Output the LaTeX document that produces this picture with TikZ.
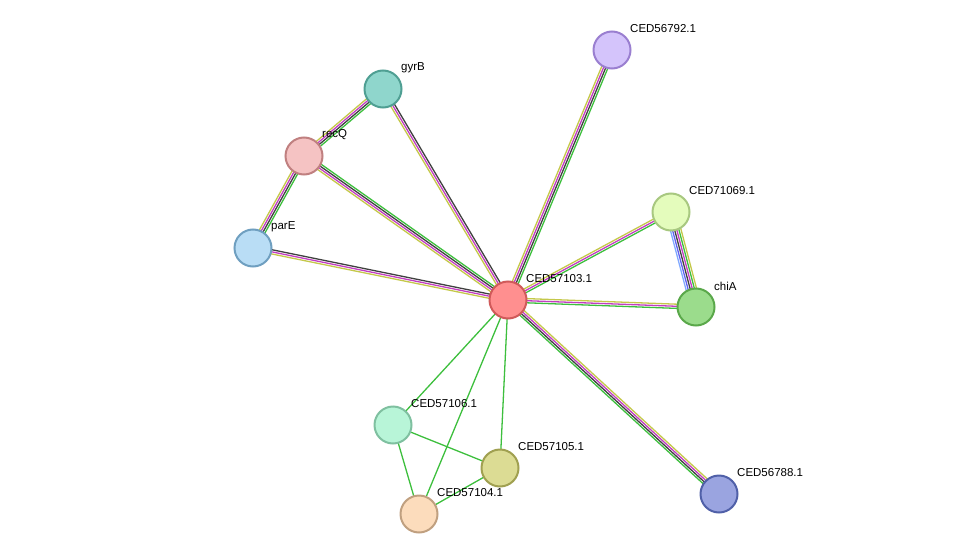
\documentclass[tikz,border=0pt]{standalone}
\usepackage{fontspec}
\setmainfont{Liberation Sans}
\usetikzlibrary{calc}
\definecolor{eg}{HTML}{3DBF3D}
\definecolor{em}{HTML}{C23DC2}
\definecolor{ek}{HTML}{404040}
\definecolor{ey}{HTML}{C4C84A}
\definecolor{eb}{HTML}{6060F0}
\definecolor{el}{HTML}{80A8FF}
\newcommand{\stredge}[3]{%
 \foreach \c [count=\i] in {#3} {\xdef\nn{\i}}%
 \foreach \c [count=\i] in {#3} {%
  \pgfmathsetmacro{\off}{(\i-(\nn+1)/2)*2.1}%
  \draw[\c,line width=1.3pt] ($(#1)!\off pt!90:(#2)$) -- ($(#2)!\off pt!-90:(#1)$);}}
\tikzset{prot/.style={circle,minimum size=37pt,inner sep=0pt,line width=2pt},
 lab/.style={anchor=west,font=\fontsize{11.5}{12}\selectfont,inner sep=0pt}}
\begin{document}
\begin{tikzpicture}[x=1pt,y=-1pt]
\useasboundingbox (0,0) rectangle (976,559);
\coordinate (c) at (508,300);
\coordinate (n1) at (612,50);
\coordinate (gy) at (383,89);
\coordinate (rq) at (304,156);
\coordinate (pe) at (253,248);
\coordinate (n2) at (671,212);
\coordinate (ch) at (696,307);
\coordinate (n6) at (393,425);
\coordinate (n5) at (500,468);
\coordinate (n4) at (419,514);
\coordinate (n8) at (719,494);
\stredge{c}{n1}{eg,ek,em,ey}
\stredge{c}{gy}{ek,em,ey}
\stredge{c}{rq}{eg,ek,em,ey}
\stredge{c}{pe}{ek,em,ey}
\stredge{rq}{gy}{eg,ek,em,ey}
\stredge{pe}{rq}{eg,ek,em,ey}
\stredge{c}{n2}{eg,em,ey}
\stredge{c}{ch}{eg,em,ey}
\stredge{n2}{ch}{el,eb,ek,em,eg,ey}
\stredge{c}{n8}{eg,ek,em,ey}
\foreach \a/\b in {c/n6,c/n5,c/n4,n6/n5,n6/n4,n5/n4} \draw[eg,line width=1.3pt] (\a)--(\b);
\foreach \p/\f/\d/\t in {c/FF8F8F/D05A5A/CED57103.1,n1/D4C4FB/9A7FD0/CED56792.1,gy/8FD6CC/4F9F93/gyrB,rq/F5C3C3/C08080/recQ,pe/B9DDF5/6F9FC0/parE,n2/E4FCBC/A8C880/CED71069.1,ch/9BDC8C/5AA84A/chiA,n6/B8F5D8/7FC0A0/CED57106.1,n5/DCDC94/A0A050/CED57105.1,n4/FCDCBC/C0A080/CED57104.1,n8/9AA4E0/5060A8/CED56788.1}{
 \definecolor{ff}{HTML}{\f}\definecolor{dd}{HTML}{\d}
 \node[prot,fill=ff,draw=dd] (N\p) at (\p) {};
 \node[lab] (L\p) at ($(\p)+(18,-21)$) {\t};}
\end{tikzpicture}
\end{document}
